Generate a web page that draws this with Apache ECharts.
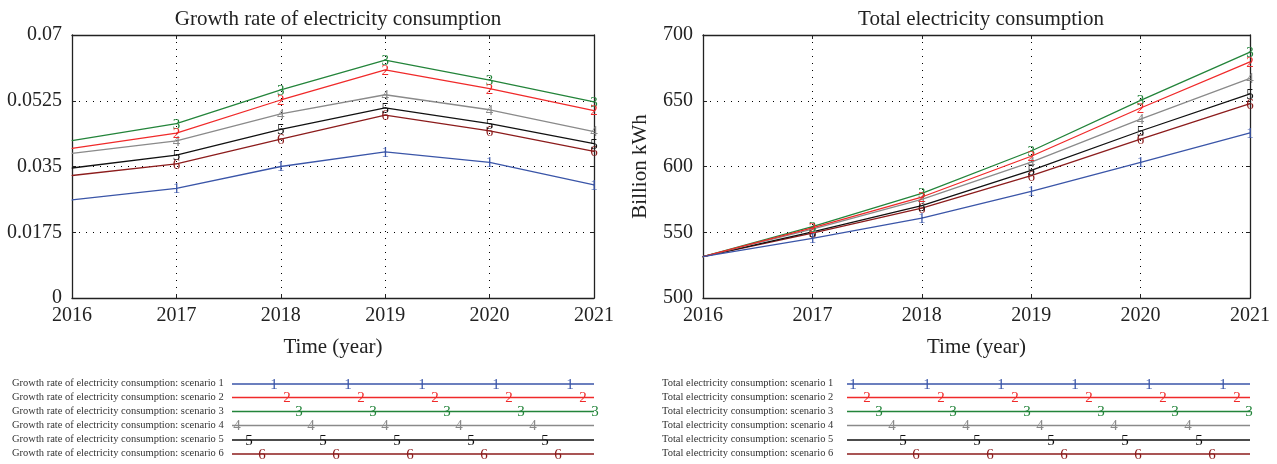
<!DOCTYPE html>
<html>
<head>
<meta charset="utf-8">
<script src="https://cdn.jsdelivr.net/npm/echarts@6/dist/echarts.min.js"></script>
<style>
html,body{margin:0;padding:0;background:#fff;}
#c{width:1277px;height:464px;}
</style>
</head>
<body>
<div id="c"></div>
<script>
// ---- data ----
const years = ['2016', '2017', '2018', '2019', '2020', '2021'];
const growthTicks = [0, 0.0175, 0.035, 0.0525, 0.07];
const totalTicks = [500, 550, 600, 650, 700];

const growth1 = [0.0261, 0.0292, 0.0350, 0.0389, 0.0361, 0.0301];
const growth2 = [0.0398, 0.0439, 0.0527, 0.0607, 0.0557, 0.0499];
const growth3 = [0.0419, 0.0464, 0.0554, 0.0633, 0.0580, 0.0522];
const growth4 = [0.0385, 0.0418, 0.0490, 0.0541, 0.0501, 0.0443];
const growth5 = [0.0346, 0.0380, 0.0449, 0.0506, 0.0464, 0.0411];
const growth6 = [0.0326, 0.0357, 0.0423, 0.0487, 0.0445, 0.0390];

const total1 = [531.4, 545.3, 560.8, 581.0, 603.2, 625.5];
const total2 = [531.4, 553.3, 576.8, 607.8, 644.5, 679.5];
const total3 = [531.4, 554.2, 579.6, 611.8, 650.3, 687.0];
const total4 = [531.4, 552.3, 575.0, 603.3, 636.0, 667.0];
const total5 = [531.4, 550.3, 570.2, 597.0, 627.0, 655.3];
const total6 = [531.4, 549.3, 568.3, 593.0, 620.8, 647.8];

const growthSeries = [growth1, growth2, growth3, growth4, growth5, growth6];
const totalSeries = [total1, total2, total3, total4, total5, total6];
const scenarioNames = ['scenario 1', 'scenario 2', 'scenario 3', 'scenario 4', 'scenario 5', 'scenario 6'];
const colors = ['#3a55a8', '#f02a2a', '#23843a', '#8a8a8a', '#111111', '#8c1c1c'];

// ---- styling ----
const FONT = '"Liberation Serif", "DejaVu Serif", serif';
const TXT = '#222';

function buildSeries(dataList, axisIdx, prefix) {
  return dataList.map((vals, si) => ({
    name: prefix + scenarioNames[si],
    type: 'line',
    xAxisIndex: axisIdx,
    yAxisIndex: axisIdx,
    data: vals.map((v, i) => i === 0 ? { value: v, label: { show: false } } : v),
    symbol: 'circle',
    symbolSize: 1,
    showSymbol: true,
    lineStyle: { color: colors[si], width: 1.3 },
    itemStyle: { color: colors[si] },
    label: {
      show: true,
      position: 'inside',
      offset: [0, 1],
      formatter: String(si + 1),
      color: colors[si],
      fontFamily: FONT,
      fontSize: 15
    },
    animation: false,
    z: 10 - si
  }));
}

function xAxisDef(gi) {
  return {
    type: 'category', gridIndex: gi, data: years, boundaryGap: false, position: 'bottom',
    axisLine: { show: true, lineStyle: { color: TXT, width: 1.3 } },
    axisTick: { show: true, inside: true, length: 4, lineStyle: { color: TXT } },
    axisLabel: { color: TXT, fontFamily: FONT, fontSize: 20, margin: 8 },
    splitLine: { show: true, lineStyle: { color: '#000', type: [1, 6], width: 1 } },
    name: 'Time (year)', nameLocation: 'middle', nameGap: 39,
    nameTextStyle: { color: TXT, fontFamily: FONT, fontSize: 21 }
  };
}

function xAxisTop(gi) {
  return {
    type: 'category', gridIndex: gi, data: years, boundaryGap: false, position: 'top',
    axisLine: { show: true, onZero: false, lineStyle: { color: TXT, width: 1.3 } },
    axisTick: { show: true, inside: true, length: 4, lineStyle: { color: TXT } },
    axisLabel: { show: false },
    splitLine: { show: false }
  };
}

function yAxisDef(gi, ticks, name) {
  const iv = ticks[1] - ticks[0];
  return {
    type: 'value', gridIndex: gi, min: ticks[0], max: ticks[ticks.length - 1], interval: iv, position: 'left',
    axisLine: { show: true, lineStyle: { color: TXT, width: 1.3 } },
    axisTick: { show: true, inside: true, length: 4, lineStyle: { color: TXT } },
    axisLabel: {
      color: TXT, fontFamily: FONT, fontSize: 20, margin: 10,
      formatter: v => {
        let best = ticks[0];
        ticks.forEach(t => { if (Math.abs(t - v) < Math.abs(best - v)) best = t; });
        return String(best);
      }
    },
    splitLine: { show: true, lineStyle: { color: '#000', type: [1, 6], width: 1 } },
    name: name, nameLocation: 'middle', nameGap: 52,
    nameTextStyle: { color: TXT, fontFamily: FONT, fontSize: 21 }
  };
}

function yAxisRight(gi, ticks) {
  const iv = ticks[1] - ticks[0];
  return {
    type: 'value', gridIndex: gi, min: ticks[0], max: ticks[ticks.length - 1], interval: iv, position: 'right',
    axisLine: { show: true, onZero: false, lineStyle: { color: TXT, width: 1.3 } },
    axisTick: { show: true, inside: true, length: 4, lineStyle: { color: TXT } },
    axisLabel: { show: false },
    splitLine: { show: false }
  };
}

// ---- legend (drawn as graphic) ----
function legendGraphics(prefix, textX, lineStart, lineEnd, firstMarks) {
  const rowsY = [384, 397.5, 411.5, 425.5, 440, 454];
  const period = 74;
  const els = [];
  rowsY.forEach((y, i) => {
    els.push({
      type: 'text', left: textX, top: y - 6, silent: true,
      style: { text: prefix + scenarioNames[i], fill: '#333', font: '10.5px ' + FONT, textVerticalAlign: 'top' }
    });
    els.push({
      type: 'line', silent: true,
      shape: { x1: lineStart, y1: y, x2: lineEnd, y2: y },
      style: { stroke: colors[i], lineWidth: 1.6 }
    });
    for (let x = firstMarks[i]; x <= lineEnd + 1; x += period) {
      els.push({
        type: 'text', x: x, y: y + 1, silent: true,
        style: { text: String(i + 1), fill: colors[i], font: '15px ' + FONT, align: 'center', verticalAlign: 'middle' }
      });
    }
  });
  return els;
}

const chart = echarts.init(document.getElementById('c'), null, { renderer: 'canvas' });

const option = {
  animation: false,
  backgroundColor: '#fff',
  title: [
    { text: 'Growth rate of electricity consumption', left: 333, top: 4, textAlign: 'center',
      textStyle: { fontFamily: FONT, fontSize: 21, fontWeight: 'normal', color: TXT } },
    { text: 'Total electricity consumption', left: 976, top: 4, textAlign: 'center',
      textStyle: { fontFamily: FONT, fontSize: 21, fontWeight: 'normal', color: TXT } }
  ],
  grid: [
    { left: 72, right: 683, top: 35, bottom: 166 },
    { left: 703, right: 27, top: 35, bottom: 166 }
  ],
  xAxis: [xAxisDef(0), xAxisDef(1), xAxisTop(0), xAxisTop(1)],
  yAxis: [yAxisDef(0, growthTicks, ''), yAxisDef(1, totalTicks, 'Billion kWh'), yAxisRight(0, growthTicks), yAxisRight(1, totalTicks)],
  series: [
    ...buildSeries(growthSeries, 0, 'Growth rate of electricity consumption: '),
    ...buildSeries(totalSeries, 1, 'Total electricity consumption: ')
  ],
  graphic: [
    ...legendGraphics('Growth rate of electricity consumption: ', 12, 232, 594, [274, 287, 299, 237, 249, 262]),
    ...legendGraphics('Total electricity consumption: ', 662, 847, 1250, [853, 867, 879, 892, 903, 916])
  ]
};

chart.setOption(option);
</script>
</body>
</html>
